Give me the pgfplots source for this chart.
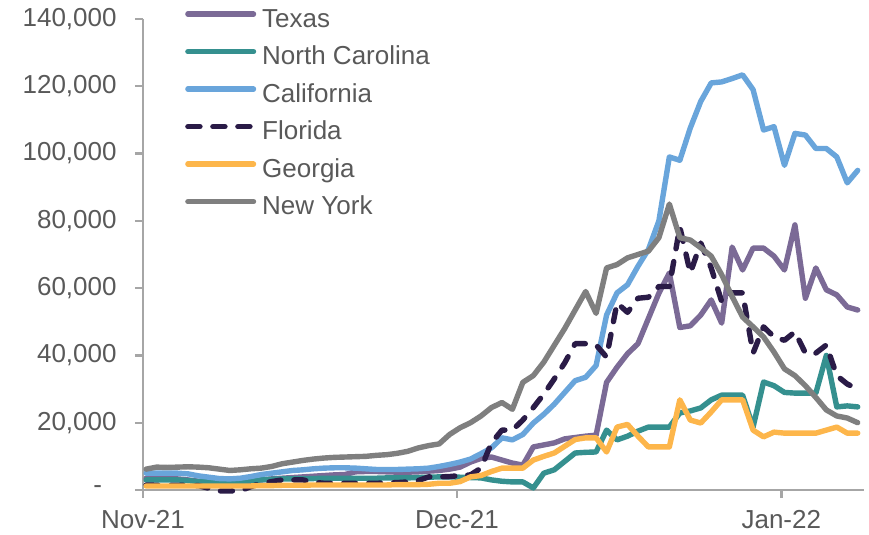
\documentclass[border=0pt]{standalone}
\usepackage{pgfplots}
\pgfplotsset{compat=1.18}
\usepackage{pgfplotstable}
\usepackage{fontspec}
\setmainfont{Liberation Sans}
\definecolor{txc}{HTML}{7B6A96}
\definecolor{ncc}{HTML}{35908F}
\definecolor{cac}{HTML}{69A5DB}
\definecolor{flc}{HTML}{2A1B47}
\definecolor{gac}{HTML}{FDB64B}
\definecolor{nyc}{HTML}{7F7F7F}
\definecolor{axc}{HTML}{A6A6A6}
\definecolor{txtc}{HTML}{595959}

% values in thousands of cases; d = days since 1 Nov 2021
\pgfplotstableread{
d tx nc ca fl ga ny
0 3.5 3.0 5.0 1.5 1.2 6.2
1 3.6 3.0 5.0 1.4 1.2 6.8
2 3.5 3.0 5.0 1.4 1.2 6.7
3 3.3 3.0 5.0 1.4 1.2 6.8
4 3.0 2.8 4.8 1.4 1.2 6.9
5 2.6 2.5 4.2 1.3 1.2 6.8
6 2.3 2.4 3.8 0.5 1.2 6.6
7 2.1 2.4 3.4 -0.3 1.2 6.2
8 2.0 2.4 3.3 -0.3 1.2 5.8
9 2.2 2.5 3.5 -0.2 1.2 6.0
10 2.6 2.8 4.0 1.0 1.2 6.3
11 3.0 3.0 4.6 2.0 1.3 6.5
12 3.3 3.2 5.0 2.5 1.3 7.0
13 3.5 3.3 5.4 3.0 1.4 7.8
14 3.7 3.3 5.8 3.0 1.4 8.3
15 3.9 3.3 6.0 3.0 1.4 8.8
16 4.1 3.4 6.3 2.3 1.5 9.2
17 4.3 3.5 6.5 2.0 1.5 9.5
18 4.5 3.5 6.6 2.0 1.5 9.7
19 4.6 3.5 6.6 2.0 1.5 9.8
20 5.4 3.5 6.5 2.0 1.5 9.9
21 5.5 3.5 6.3 2.0 1.5 10.0
22 5.5 3.5 6.1 2.0 1.5 10.3
23 5.4 3.6 6.1 2.1 1.5 10.5
24 5.3 3.6 6.1 2.2 1.6 10.9
25 5.3 3.6 6.2 2.4 1.6 11.5
26 5.4 3.7 6.3 2.8 1.6 12.5
27 5.6 3.8 6.5 3.9 1.7 13.2
28 5.8 3.9 7.0 3.9 2.0 13.7
29 6.2 3.9 7.6 4.0 2.0 16.5
30 6.8 3.8 8.3 4.3 2.5 18.5
31 8.3 3.7 9.2 4.5 3.9 20.0
32 9.4 3.6 10.8 6.5 4.3 22.0
33 9.8 3.0 12.5 14.0 5.5 24.5
34 8.9 2.6 15.5 17.8 6.5 26.0
35 8.0 2.4 14.9 17.8 6.5 24.0
36 7.4 2.4 16.5 20.8 6.5 32.0
37 12.8 0.6 19.9 24.5 8.9 34.0
38 13.4 5.0 22.5 28.5 10.0 38.0
39 14.0 6.0 25.5 33.0 11.0 43.0
40 15.2 8.5 29.0 37.8 13.0 48.0
41 15.6 11.0 32.5 43.5 15.0 53.5
42 16.0 11.2 33.5 43.5 15.5 59.0
43 16.3 11.3 37.0 43.1 15.5 52.5
44 32.0 17.8 52.0 39.5 11.3 66.0
45 36.5 14.9 58.6 55.6 18.7 67.0
46 40.5 16.0 61.0 52.8 19.5 69.0
47 43.5 17.5 66.5 57.0 16.0 70.0
48 51.0 18.7 71.5 57.3 12.8 71.0
49 58.5 18.7 80.0 60.5 12.8 75.0
50 64.5 18.7 99.0 60.5 12.8 85.0
51 48.3 22.9 98.0 78.2 26.8 75.0
52 48.8 23.5 107.6 64.5 20.8 74.3
53 52.0 24.4 115.5 73.4 19.9 72.0
54 56.5 26.8 121.0 66.0 23.2 69.5
55 49.6 28.2 121.3 56.0 26.8 64.0
56 72.2 28.2 122.3 58.6 26.8 57.5
57 65.4 28.2 123.4 58.6 26.8 51.4
58 71.9 18.7 119.0 40.7 17.8 48.5
59 71.9 32.1 107.0 48.5 15.8 45.5
60 69.5 31.0 108.0 45.5 17.2 41.0
61 65.4 29.0 96.5 44.5 16.9 36.0
62 78.8 28.8 106.0 47.0 16.9 34.0
63 57.0 28.8 105.5 40.7 16.9 31.0
64 66.0 28.8 101.5 40.7 16.9 27.5
65 59.5 40.0 101.5 43.1 17.8 23.8
66 58.0 24.7 99.0 34.0 18.7 22.0
67 54.4 25.0 91.3 31.5 16.9 21.4
68 53.5 24.7 95.0 30.0 16.9 20.0
}\data

\begin{document}
\begin{tikzpicture}
\begin{axis}[
  scale only axis, width=360.5bp, height=235.5bp,
  xmin=-0.3, xmax=68.6, ymin=0, ymax=140,
  clip=false,
  axis x line=bottom, axis y line=left,
  axis line style={axc, line width=1.2bp, -},
  tick style={axc, line width=1.2bp},
  tick align=outside, major tick length=4bp,
  xtick={-0.3,29.7,60.7}, xticklabels={Nov-21,Dec-21,Jan-22},
  ytick={0,20,40,60,80,100,120,140},
  yticklabels={{-\hphantom{0}},{20,000},{40,000},{60,000},{80,000},{100,000},{120,000},{140,000}},
  tick label style={font=\fontsize{13bp}{15.6bp}\selectfont, text=txtc, inner sep=0pt},
  yticklabel style={xshift=-9bp},
  xticklabel style={yshift=-6bp},
  legend cell align=left,
  legend style={at={(0.058,1.0234)}, anchor=north west, draw=none, fill=none,
    inner sep=0pt, row sep=6.55bp, font=\fontsize{13bp}{15.6bp}\selectfont, text=txtc,
    nodes={inner sep=0pt, text height=9.4bp, text depth=2.8bp},
    /tikz/every odd column/.append style={column sep=3bp}},
  legend image code/.code={\draw[#1] (1.35bp,3.2bp) -- (34.15bp,3.2bp);},
  every axis plot/.append style={line width=2.7bp, line join=round, line cap=round},
]
\coordinate (O) at (rel axis cs:0,0);
\addplot[txc] table[x=d, y=tx] {\data};
\addlegendentry{Texas}
\addplot[ncc] table[x=d, y=nc] {\data};
\addlegendentry{North Carolina}
\addplot[cac] table[x=d, y=ca] {\data};
\addlegendentry{California}
\addplot[flc, dash pattern=on 6bp off 6.5bp] table[x=d, y=fl] {\data};
\addlegendentry{Florida}
\addplot[gac] table[x=d, y=ga] {\data};
\addlegendentry{Georgia}
\addplot[nyc] table[x=d, y=ny] {\data};
\addlegendentry{New York}
\end{axis}
\path[use as bounding box] ([shift={(-71.5bp,-22.5bp)}]O) rectangle ([shift={(363bp,245bp)}]O);
\end{tikzpicture}
\end{document}
